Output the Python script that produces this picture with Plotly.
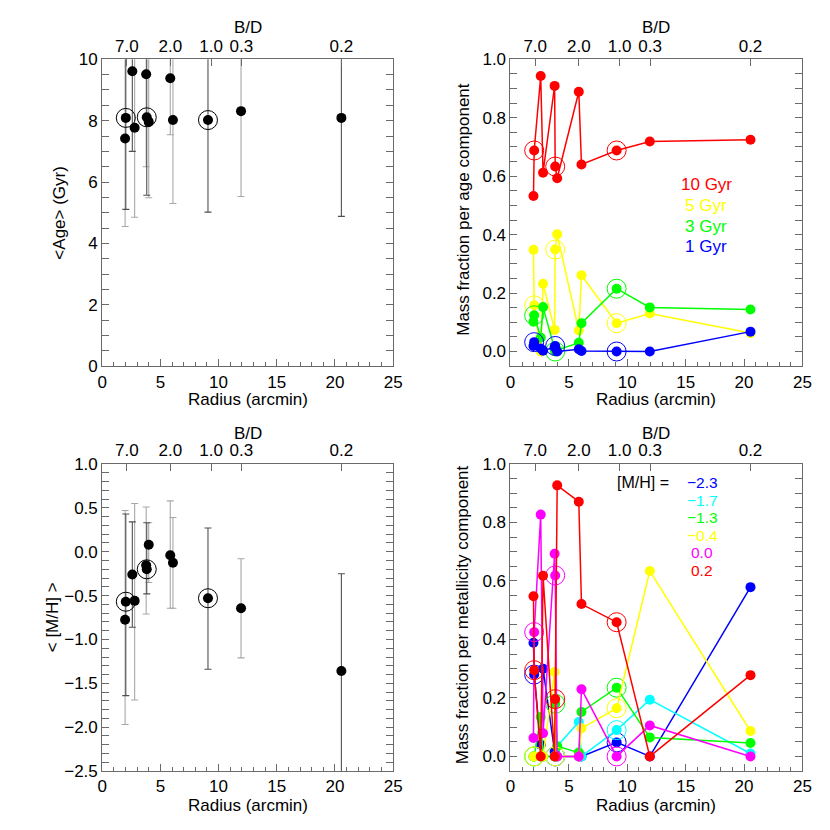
import plotly.graph_objects as go

# ---------------- data ----------------
radius = [1.97, 2.03, 2.59, 2.79, 3.78, 3.83, 4.00, 5.85, 6.08, 9.09, 11.93, 20.55]
circled = [1, 5, 9]                      # indices of the encircled points

bd_radius = [2.12, 5.85, 9.35, 11.95, 20.55]
bd_labels = ["7.0", "2.0", "1.0", "0.3", "0.2"]

age = [7.42, 8.09, 9.61, 7.77, 9.51, 8.11, 7.96, 9.38, 8.02, 8.02, 8.31, 8.09]
age_lower = [4.55, 5.11, 7.00, 4.85, 6.50, 5.57, 5.49, 7.54, 5.30, 5.02, 5.53, 4.88]
age_upper = [10.3, 11.1, 12.2, 10.7, 12.5, 10.65, 10.4, 11.2, 10.7, 11.0, 11.1, 11.3]

mh = [-0.775, -0.57, -0.26, -0.56, -0.155, -0.20, 0.08, -0.04, -0.125, -0.53, -0.645, -1.36]
mh_upper = [0.47, 0.43, 0.34, 0.55, 0.51, 0.33, 0.33, 0.58, 0.39, 0.27, -0.08, -0.25]
mh_lower = [-1.97, -1.64, -0.86, -1.69, -0.71, -0.48, -0.35, -0.645, -0.645, -1.34, -1.21, -2.52]

errbar_dark = [1, 2, 5, 9, 11]           # error bars drawn in the darker grey

age_labels = ["10 Gyr", "5 Gyr", "3 Gyr", "1 Gyr"]
frac_10gyr = [0.532, 0.688, 0.943, 0.612, 0.909, 0.633, 0.593, 0.889, 0.640, 0.688, 0.719, 0.725]
frac_5gyr = [0.348, 0.158, 0.000, 0.232, 0.074, 0.349, 0.401, 0.072, 0.261, 0.097, 0.130, 0.063]
frac_3gyr = [0.102, 0.124, 0.047, 0.152, 0.008, 0.000, 0.005, 0.030, 0.097, 0.215, 0.151, 0.144]
frac_1gyr = [0.019, 0.032, 0.010, 0.003, 0.015, 0.019, 0.000, 0.008, 0.002, 0.000, 0.000, 0.068]

mh_labels = ["\u22122.3", "\u22121.7", "\u22121.3", "\u22120.4", "0.0", "0.2"]
frac_mh_m23 = [0.389, 0.280, 0.040, 0.300, 0.016, 0.000, 0.000, 0.000, 0.000, 0.048, 0.000, 0.579]
frac_mh_m17 = [0.000, 0.000, 0.000, 0.000, 0.000, 0.000, 0.035, 0.118, 0.000, 0.090, 0.194, 0.010]
frac_mh_m13 = [0.000, 0.000, 0.135, 0.000, 0.000, 0.180, 0.035, 0.013, 0.152, 0.235, 0.065, 0.046]
frac_mh_m04 = [0.000, 0.000, 0.000, 0.000, 0.289, 0.000, 0.000, 0.000, 0.096, 0.165, 0.634, 0.087]
frac_mh_p00 = [0.063, 0.425, 0.827, 0.079, 0.693, 0.619, 0.000, 0.000, 0.230, 0.000, 0.106, 0.000]
frac_mh_p02 = [0.548, 0.295, 0.000, 0.618, 0.000, 0.196, 0.927, 0.871, 0.521, 0.459, 0.000, 0.278]

# ---------------- styling ----------------
W = H = 830
FONT = "Liberation Sans, Arial, Helvetica, sans-serif"
FS = 17
AX = "#6a6a6a"
DARK_ERR = "#505050"
LIGHT_ERR = "#a8a8a8"

def px(p):
    return p / W

def py(p):
    return 1 - p / H

dom_xl = [px(90.7), px(386.7)]
dom_xr = [px(506.0), px(803.0)]
dom_yt = [py(357.3), py(43.3)]
dom_yb = [py(771.7), py(457.5)]

fig = go.Figure()

def sub(lst, idx):
    return [lst[i] for i in idx]

def add_errs(xa, ya, vals, lower, upper):
    for grp, col in ((False, LIGHT_ERR), (True, DARK_ERR)):
        idx = [i for i in range(len(radius)) if (i in errbar_dark) == grp]
        v = sub(vals, idx)
        fig.add_trace(go.Scatter(
            x=sub(radius, idx), y=v, mode="markers",
            marker=dict(size=2, color="rgba(0,0,0,0)"),
            error_y=dict(type="data", symmetric=False,
                         array=[u - a for u, a in zip(sub(upper, idx), v)],
                         arrayminus=[a - l for a, l in zip(v, sub(lower, idx))],
                         color=col, thickness=1.1, width=3.5),
            xaxis=xa, yaxis=ya, showlegend=False, hoverinfo="skip"))

def add_points(xa, ya, vals, color, line):
    fig.add_trace(go.Scatter(
        x=sub(radius, circled), y=sub(vals, circled), mode="markers",
        marker=dict(size=19, color="rgba(0,0,0,0)", line=dict(color=color, width=1)),
        xaxis=xa, yaxis=ya, showlegend=False, hoverinfo="skip"))
    fig.add_trace(go.Scatter(
        x=radius, y=vals, mode="lines+markers" if line else "markers",
        line=dict(color=color, width=1.5),
        marker=dict(size=10, color=color),
        xaxis=xa, yaxis=ya, showlegend=False))

# top-left: mean age
add_errs("x", "y", age, age_lower, age_upper)
add_points("x", "y", age, "black", False)

# top-right: mass fraction per age component
for vals, col in ((frac_10gyr, "#ff0000"), (frac_5gyr, "#ffff00"),
                  (frac_3gyr, "#00ff00"), (frac_1gyr, "#0000ff")):
    add_points("x2", "y2", vals, col, True)

# bottom-left: mean metallicity
add_errs("x3", "y3", mh, mh_lower, mh_upper)
add_points("x3", "y3", mh, "black", False)

# bottom-right: mass fraction per metallicity component
mh_cols = ["#0000ff", "#00ffff", "#00ff00", "#ffff00", "#ff00ff", "#ff0000"]
for vals, col in zip((frac_mh_m23, frac_mh_m17, frac_mh_m13, frac_mh_m04,
                      frac_mh_p00, frac_mh_p02), mh_cols):
    add_points("x4", "y4", vals, col, True)

# empty traces so the B/D axes exist
for xa, ya in (("x5", "y"), ("x6", "y2"), ("x7", "y3"), ("x8", "y4")):
    fig.add_trace(go.Scatter(x=[None], y=[None], xaxis=xa, yaxis=ya,
                             showlegend=False, hoverinfo="skip"))

tickfont = dict(family=FONT, size=FS, color="black")

def xbottom(dom, anchor):
    return dict(domain=dom, anchor=anchor, range=[0, 25], tick0=0, dtick=5,
                ticks="inside", ticklen=7, tickcolor=AX, tickwidth=1,
                minor=dict(dtick=1, ticks="inside", ticklen=4, tickcolor=AX, tickwidth=1),
                showline=True, linecolor=AX, linewidth=1, mirror=False,
                showgrid=False, zeroline=False, tickfont=tickfont)

def xtop(dom, anchor, over):
    return dict(domain=dom, anchor=anchor, overlaying=over, side="top",
                range=[0, 25], tickmode="array", tickvals=bd_radius, ticktext=bd_labels,
                ticks="inside", ticklen=7, tickcolor=AX, tickwidth=1,
                showline=True, linecolor=AX, linewidth=1,
                showgrid=False, zeroline=False, tickfont=tickfont)

def yaxis(dom, anchor, rng, dtick, mdtick, fmt):
    return dict(domain=dom, anchor=anchor, range=rng, tick0=0, dtick=dtick,
                tickformat=fmt, ticks="inside", ticklen=7, tickcolor=AX, tickwidth=1,
                minor=dict(dtick=mdtick, ticks="inside", ticklen=4, tickcolor=AX, tickwidth=1),
                showline=True, linecolor=AX, linewidth=1, mirror="allticks",
                showgrid=False, zeroline=False, tickfont=tickfont)

fig.update_layout(
    width=W, height=H, margin=dict(l=0, r=0, t=0, b=0),
    paper_bgcolor="white", plot_bgcolor="white", showlegend=False,
    font=dict(family=FONT, size=FS, color="black"),
    xaxis=xbottom(dom_xl, "y"),
    yaxis=yaxis(dom_yt, "x", [0, 10], 2, 0.5, "d"),
    xaxis2=xbottom(dom_xr, "y2"),
    yaxis2=yaxis(dom_yt, "x2", [-0.05, 1.0], 0.2, 0.05, ".1f"),
    xaxis3=xbottom(dom_xl, "y3"),
    yaxis3=yaxis(dom_yb, "x3", [-2.5, 1.0], 0.5, 0.1, ".1f"),
    xaxis4=xbottom(dom_xr, "y4"),
    yaxis4=yaxis(dom_yb, "x4", [-0.05, 1.0], 0.2, 0.05, ".1f"),
    xaxis5=xtop(dom_xl, "y", "x"),
    xaxis6=xtop(dom_xr, "y2", "x2"),
    xaxis7=xtop(dom_xl, "y3", "x3"),
    xaxis8=xtop(dom_xr, "y4", "x4"),
)

ann = []
def text(x, y, s, color="black", angle=0, xanchor="center", size=FS):
    ann.append(dict(x=px(x), y=py(y), xref="paper", yref="paper", text=s,
                    showarrow=False, textangle=angle, xanchor=xanchor, yanchor="middle",
                    font=dict(family=FONT, size=size, color=color)))

# axis titles
for cx in (238.7, 654.5):
    text(cx, 391, "Radius (arcmin)")
    text(cx, 807, "Radius (arcmin)")
    text(cx, 11, "B/D")
    text(cx, 426, "B/D")
text(47, 200, "&lt;Age&gt; (Gyr)", angle=-90)
text(458, 197, "Mass fraction per age component", angle=-90)
text(41, 614, "&lt; [M/H] &gt;", angle=-90)
text(458, 612, "Mass fraction per metallicity component", angle=-90)

# legend texts, top-right
age_cols = ["#ff0000", "#ffff00", "#00ff00", "#0000ff"]
for i, (lab, col) in enumerate(zip(age_labels, age_cols)):
    text(705, 171.5 + 21.2 * i, lab, color=col)

# legend texts, bottom-right
text(641, 476.5, "[M/H] =", size=16)
for i, (lab, col) in enumerate(zip(mh_labels, mh_cols)):
    text(701, 476.5 + 17.9 * i, lab, color=col, size=15.5)

fig.update_layout(annotations=ann)
fig.write_html("out.html")
